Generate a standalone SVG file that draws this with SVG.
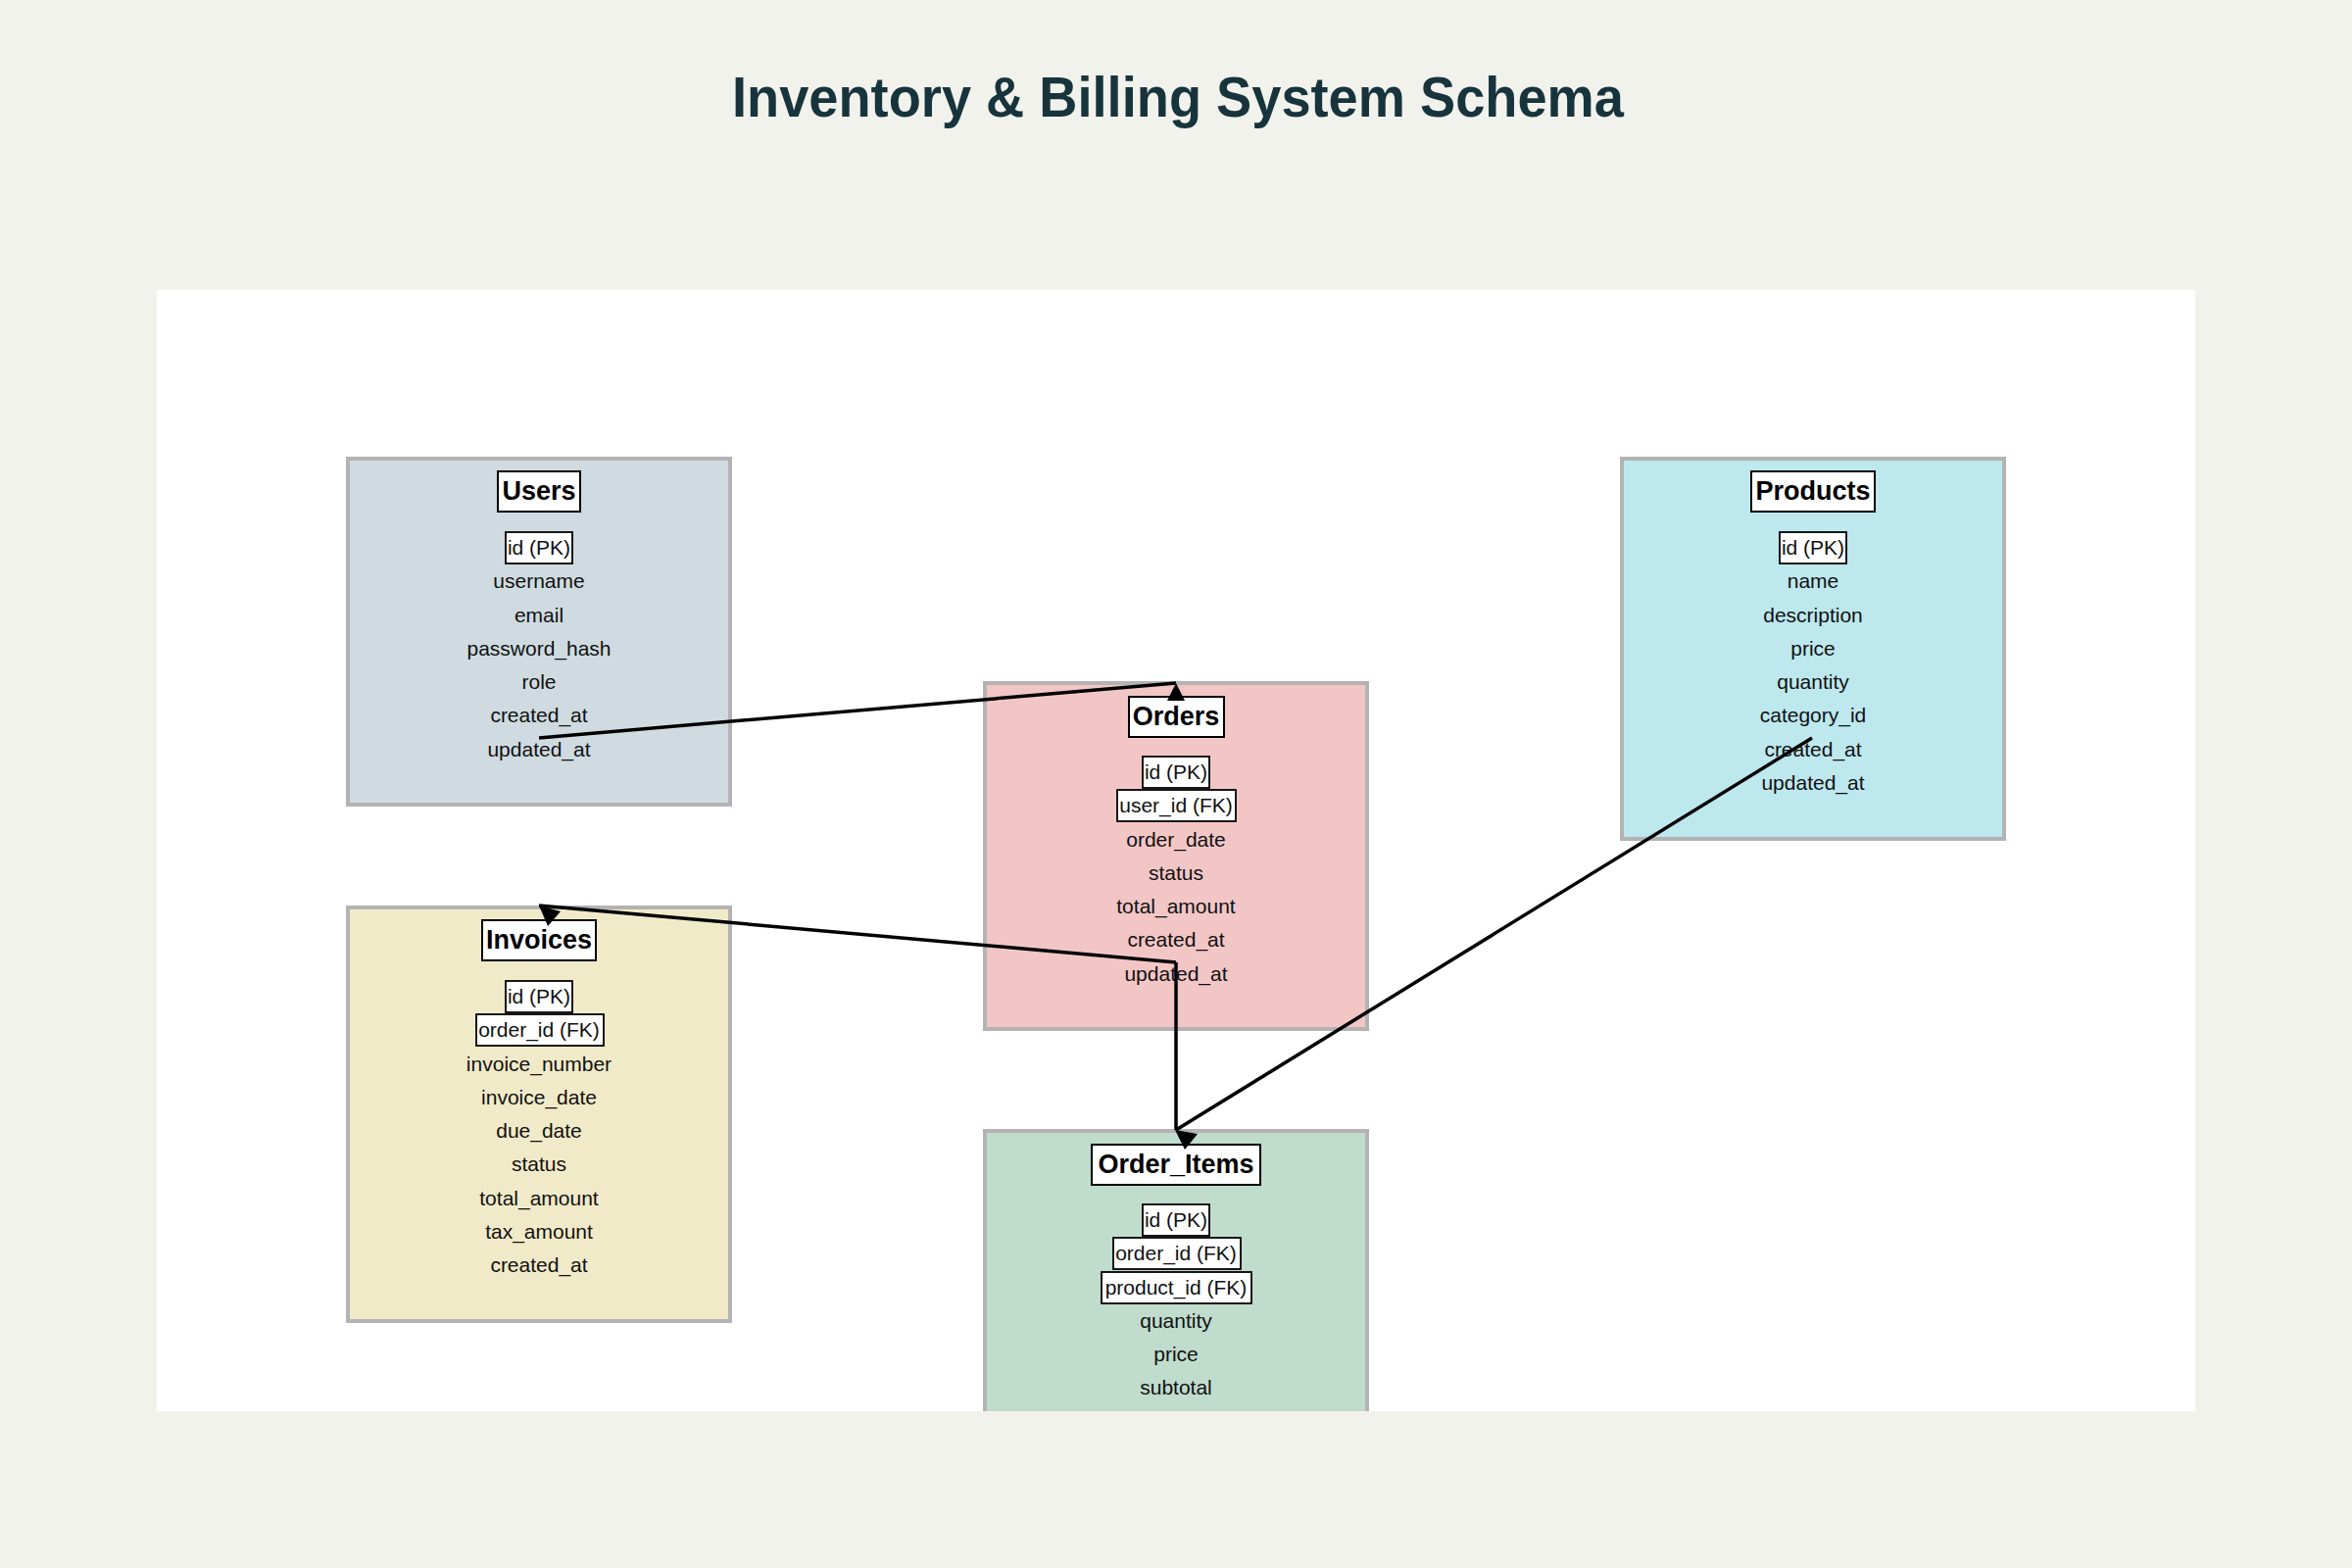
<svg xmlns="http://www.w3.org/2000/svg" width="2400" height="1600" viewBox="0 0 2400 1600">
<style>
.bg{fill:#f2f2ed}
.panel{fill:#ffffff}
.node{stroke:#b3b3b3;stroke-width:4}
.tbox{fill:#ffffff;stroke:#000000;stroke-width:2}
.kbox{fill:#ffffff;stroke:#000000;stroke-width:1.8}
.ttl{font-family:"Liberation Sans",Arial,Helvetica,sans-serif;font-weight:bold;font-size:27px;fill:#000;text-anchor:middle}
.fld{font-family:"Liberation Sans",Arial,Helvetica,sans-serif;font-size:21px;fill:#111;text-anchor:middle}
.edge{fill:none;stroke:#000;stroke-width:3.5}
.arrow{fill:#000;stroke:none}
.main{font-family:"Liberation Sans",Arial,Helvetica,sans-serif;font-weight:bold;font-size:58px;fill:#17343c;text-anchor:middle}
</style>
<defs>
<clipPath id="pc"><rect x="160" y="296" width="2080" height="1144"/></clipPath>
</defs>
<rect class="bg" x="0" y="0" width="2400" height="1600"/>
<text class="main" x="1202" y="119" textLength="910" lengthAdjust="spacingAndGlyphs">Inventory &amp; Billing System Schema</text>
<rect class="panel" x="160" y="296" width="2080" height="1144"/>
<g clip-path="url(#pc)">
<g id="users">
<rect class="node" x="355" y="468" width="390" height="353" fill="#cfdbe0"/>
<rect class="tbox" x="508" y="481" width="84" height="41"/>
<text class="ttl" x="550" y="510">Users</text>
<rect class="kbox" x="516" y="543" width="68" height="32"/>
<text class="fld" x="550" y="566">id (PK)</text>
<text class="fld" x="550" y="600">username</text>
<text class="fld" x="550" y="635">email</text>
<text class="fld" x="550" y="669">password_hash</text>
<text class="fld" x="550" y="703">role</text>
<text class="fld" x="550" y="737">created_at</text>
<text class="fld" x="550" y="772">updated_at</text>
</g>
<g id="orders">
<rect class="node" x="1005" y="697" width="390" height="353" fill="#f3c6c6"/>
<rect class="tbox" x="1152" y="711" width="97" height="41"/>
<text class="ttl" x="1200" y="740">Orders</text>
<rect class="kbox" x="1166" y="772" width="68" height="32"/>
<text class="fld" x="1200" y="795">id (PK)</text>
<rect class="kbox" x="1140" y="806" width="121" height="32"/>
<text class="fld" x="1200" y="829">user_id (FK)</text>
<text class="fld" x="1200" y="864">order_date</text>
<text class="fld" x="1200" y="898">status</text>
<text class="fld" x="1200" y="932">total_amount</text>
<text class="fld" x="1200" y="966">created_at</text>
<text class="fld" x="1200" y="1001">updated_at</text>
</g>
<g id="products">
<rect class="node" x="1655" y="468" width="390" height="388" fill="#bde8ee"/>
<rect class="tbox" x="1787" y="481" width="126" height="41"/>
<text class="ttl" x="1850" y="510">Products</text>
<rect class="kbox" x="1816" y="543" width="68" height="32"/>
<text class="fld" x="1850" y="566">id (PK)</text>
<text class="fld" x="1850" y="600">name</text>
<text class="fld" x="1850" y="635">description</text>
<text class="fld" x="1850" y="669">price</text>
<text class="fld" x="1850" y="703">quantity</text>
<text class="fld" x="1850" y="737">category_id</text>
<text class="fld" x="1850" y="772">created_at</text>
<text class="fld" x="1850" y="806">updated_at</text>
</g>
<g id="invoices">
<rect class="node" x="355" y="926" width="390" height="422" fill="#f1eac8"/>
<rect class="tbox" x="492" y="939" width="116" height="41"/>
<text class="ttl" x="550" y="968">Invoices</text>
<rect class="kbox" x="516" y="1001" width="68" height="32"/>
<text class="fld" x="550" y="1024">id (PK)</text>
<rect class="kbox" x="486" y="1035" width="130" height="32"/>
<text class="fld" x="550" y="1058">order_id (FK)</text>
<text class="fld" x="550" y="1093">invoice_number</text>
<text class="fld" x="550" y="1127">invoice_date</text>
<text class="fld" x="550" y="1161">due_date</text>
<text class="fld" x="550" y="1195">status</text>
<text class="fld" x="550" y="1230">total_amount</text>
<text class="fld" x="550" y="1264">tax_amount</text>
<text class="fld" x="550" y="1298">created_at</text>
</g>
<g id="order_items">
<rect class="node" x="1005" y="1154" width="390" height="319" fill="#c0dccd"/>
<rect class="tbox" x="1114" y="1168" width="172" height="41"/>
<text class="ttl" x="1200" y="1197">Order_Items</text>
<rect class="kbox" x="1166" y="1229" width="68" height="32"/>
<text class="fld" x="1200" y="1252">id (PK)</text>
<rect class="kbox" x="1136" y="1263" width="130" height="32"/>
<text class="fld" x="1200" y="1286">order_id (FK)</text>
<rect class="kbox" x="1124" y="1298" width="153" height="32"/>
<text class="fld" x="1200" y="1321">product_id (FK)</text>
<text class="fld" x="1200" y="1355">quantity</text>
<text class="fld" x="1200" y="1389">price</text>
<text class="fld" x="1200" y="1423">subtotal</text>
</g>
<g id="connectors">
<path class="edge" d="M550,753 L1200,697"/>
<path class="edge" d="M1849,753 L1200,1153"/>
<path class="edge" d="M1200,982 L550,924"/>
<path class="edge" d="M1200,982 L1200,1153"/>
<polygon class="arrow" points="1200,697 1209,715 1191,715"/>
<polygon class="arrow" points="550,924 572,930 559,945"/>
<polygon class="arrow" points="1199,1153 1222,1157 1209,1173"/>
</g>
</g>
</svg>
